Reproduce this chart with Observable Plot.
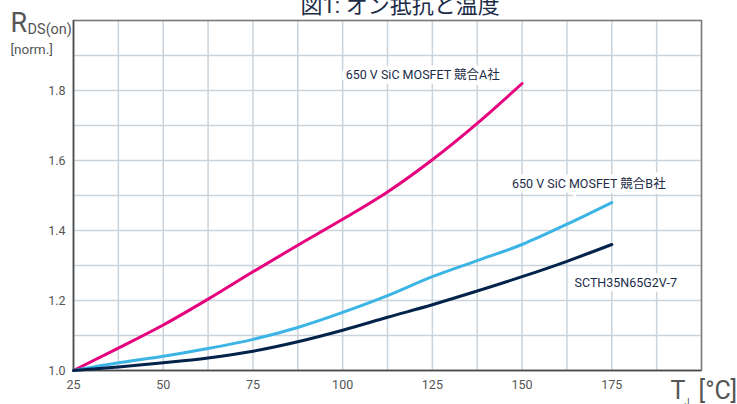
<!DOCTYPE html>
<html>
<head>
<meta charset="utf-8">
<script src="https://cdn.jsdelivr.net/npm/d3@7"></script>
<script src="https://cdn.jsdelivr.net/npm/@observablehq/plot@0.6"></script>
<style>
  html, body { margin: 0; padding: 0; background: #fff; }
  svg { overflow: hidden; }
</style>
</head>
<body>
<div id="chart"></div>
<script>
const FONT = "Roboto, 'Noto Sans CJK JP', sans-serif";

// Data
const temps = [25, 37.5, 50, 62.5, 75, 87.5, 100, 112.5, 125, 137.5, 150, 162.5, 175];
const compA = [1.0, 1.064, 1.13, 1.204, 1.282, 1.358, 1.432, 1.51, 1.602, 1.706, 1.82];
const compB = [1.0, 1.022, 1.041, 1.063, 1.089, 1.123, 1.166, 1.214, 1.268, 1.314, 1.36, 1.418, 1.48];
const scth  = [1.0, 1.01, 1.022, 1.036, 1.055, 1.082, 1.115, 1.152, 1.188, 1.227, 1.268, 1.312, 1.36];
const seriesNames = ["650 V SiC MOSFET 競合A社", "650 V SiC MOSFET 競合B社", "SCTH35N65G2V-7"];
const seriesColors = ["#e6007e", "#3cb4e6", "#03234b"];
const xTicks = [25, 50, 75, 100, 125, 150, 175];
const yTicks = [1.0, 1.2, 1.4, 1.6, 1.8];
const title = "図1: オン抵抗と温度";
// label anchor positions (data coords)
const labelX = [122.3, 168.6, 178.9];
const labelY = [1.843, 1.534, 1.251];

const rows = [];
[compA, compB, scth].forEach((vals, i) => {
  vals.forEach((v, j) => rows.push({series: seriesNames[i], t: temps[j], r: v}));
});
const labels = seriesNames.map((s, i) => ({text: s, x: labelX[i], y: labelY[i]}));

const xGrid = d3.range(25, 200.01, 12.5);
const yGrid = d3.range(1.0, 2.001, 0.1);

const chart = Plot.plot({
  width: 737,
  height: 404,
  marginLeft: 73,
  marginRight: 36,
  marginTop: 20,
  marginBottom: 34,
  style: {fontFamily: FONT, background: "#fff"},
  x: {domain: [25, 200], label: null},
  y: {domain: [1.0, 2.0], label: null},
  color: {domain: seriesNames, range: seriesColors},
  marks: [
    Plot.ruleX(xGrid, {stroke: "#c9d3dc", strokeWidth: 1.5}),
    Plot.ruleY(yGrid, {stroke: "#c9d3dc", strokeWidth: 1.5}),
    Plot.frame({stroke: "#7a7a7a", strokeWidth: 1.5}),
    Plot.ruleX([25], {stroke: "#4a4a4a", strokeWidth: 1.5}),
    Plot.ruleY([1.0], {stroke: "#4a4a4a", strokeWidth: 1.5}),
    Plot.axisX({ticks: xTicks, tickSize: 0, tickPadding: 10, fontSize: 12.5, fill: "#555", label: null, tickFormat: d => d}),
    Plot.axisY({ticks: yTicks, tickSize: 0, tickPadding: 8, fontSize: 12.5, fill: "#555", label: null, tickFormat: d3.format(".1f")}),
    Plot.line(rows, {x: "t", y: "r", z: "series", stroke: "series", strokeWidth: 3, curve: "monotone-x"}),
    Plot.text(labels, {x: "x", y: "y", text: "text", fill: "#1c2c48", fontSize: 12.5, stroke: "white", strokeWidth: 9, strokeLinejoin: "miter"}),
    Plot.text([title], {frameAnchor: "top-left", dx: 227, dy: -8, lineAnchor: "bottom", textAnchor: "start", fontSize: 22, fill: "#1c2c48"}),
    Plot.text(["R"], {frameAnchor: "top-left", dx: -63, dy: 11, lineAnchor: "bottom", textAnchor: "start", fontSize: 27, fill: "#555"}),
    Plot.text(["DS(on)"], {frameAnchor: "top-left", dx: -46, dy: 13, lineAnchor: "bottom", textAnchor: "start", fontSize: 14.5, fill: "#555"}),
    Plot.text(["[norm.]"], {frameAnchor: "top-left", dx: -63, dy: 33, lineAnchor: "bottom", textAnchor: "start", fontSize: 13.5, fill: "#555"}),
    Plot.text(["T"], {frameAnchor: "bottom-left", dx: 597, dy: 28, lineAnchor: "bottom", textAnchor: "start", fontSize: 25, fill: "#555"}),
    Plot.text(["J"], {frameAnchor: "bottom-left", dx: 611, dy: 34, lineAnchor: "bottom", textAnchor: "start", fontSize: 9, fill: "#555"}),
    Plot.text(["[°C]"], {frameAnchor: "bottom-left", dx: 625, dy: 28, lineAnchor: "bottom", textAnchor: "start", fontSize: 25, fill: "#555"})
  ]
});
document.getElementById("chart").appendChild(chart);
</script>
</body>
</html>
